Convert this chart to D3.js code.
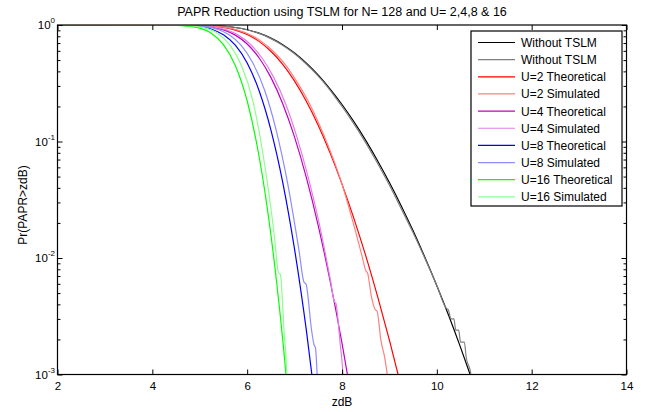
<!DOCTYPE html>
<html>
<head>
<meta charset="utf-8">
<script src="https://cdn.jsdelivr.net/npm/d3@7"></script>
<style>
body { margin: 0; background: #fff; }
text { font-family: "Liberation Sans", Arial, sans-serif; fill: #000; }
</style>
</head>
<body>
<svg width="646" height="412"></svg>
<script>
// grid used by the theoretical curves (dB)
var zdB = [2, 4, 4.5, 4.75, 5, 5.25, 5.5, 5.75, 6, 6.25, 6.5, 6.75, 7, 7.25, 7.5, 7.75, 8, 8.25, 8.5, 8.75, 9, 9.25, 9.5, 9.75, 10, 10.25, 10.5, 10.75, 11];

// theoretical CCDF values
var pWithout = [1, 1, 0.9996, 0.9987, 0.9961, 0.9897, 0.9762, 0.9512, 0.9104, 0.8506, 0.7719, 0.6779, 0.5745, 0.4698, 0.3707, 0.2820, 0.2077, 0.1480, 0.1023, 0.0684, 0.0444, 0.0280, 0.0171, 0.0101, 0.00579, 0.00321, 0.00171, 0.00088, 0.00045];
var pU2 = [1, 1, 0.9992, 0.9974, 0.9921, 0.9794, 0.9529, 0.9049, 0.8288, 0.7235, 0.5958, 0.4596, 0.3301, 0.2207, 0.1374, 0.0795, 0.0431, 0.0219, 0.01047, 0.00468, 0.00197, 0.00078];
var pU4 = [1, 1, 0.9985, 0.9948, 0.9843, 0.9592, 0.9079, 0.8188, 0.6870, 0.5235, 0.3550, 0.2112, 0.1089, 0.0487, 0.01888, 0.00632, 0.00186, 0.00048];
var pU8 = [1, 1, 0.9970, 0.9896, 0.9689, 0.9201, 0.8243, 0.6705, 0.4720, 0.2741, 0.1260, 0.0446, 0.01186, 0.00237, 0.000357];
var pU16 = [1, 1, 0.9940, 0.9792, 0.9388, 0.8466, 0.6795, 0.4496, 0.2228, 0.0751, 0.0159, 0.00199, 0.000141];

// simulated curves, [zdB, P] pairs
var simWithout = [[2, 1], [4.5, 0.9996], [4.75, 0.9987], [5, 0.996], [5.25, 0.9897], [5.5, 0.9762], [5.75, 0.9512], [6, 0.9104], [6.24, 0.8506], [6.48, 0.7719], [6.73, 0.6779], [6.98, 0.5745], [7.23, 0.4698], [7.48, 0.3707], [7.73, 0.282], [7.97, 0.2077], [8.22, 0.148], [8.47, 0.1023], [8.72, 0.0684], [8.97, 0.0444], [9.22, 0.028], [9.48, 0.0171], [9.74, 0.0101], [10, 0.0058], [10.2, 0.0037], [10.24, 0.0036], [10.3, 0.0030], [10.36, 0.0030], [10.4, 0.0024], [10.46, 0.0024], [10.5, 0.0019], [10.58, 0.0019], [10.62, 0.0014], [10.7, 0.0011], [10.76, 0.0008]];
var simU2 = [[2, 1], [4.55, 0.9992], [4.8, 0.9974], [5.05, 0.9921], [5.3, 0.9794], [5.55, 0.9529], [5.8, 0.9049], [6.05, 0.8288], [6.3, 0.7235], [6.55, 0.5958], [6.8, 0.4596], [7.04, 0.3301], [7.29, 0.2207], [7.53, 0.1374], [7.77, 0.0795], [8.0, 0.0431], [8.21, 0.0219], [8.42, 0.01047], [8.5, 0.0078], [8.54, 0.0074], [8.62, 0.00468], [8.7, 0.0036], [8.74, 0.0035], [8.82, 0.00197], [8.9, 0.0014], [8.97, 0.0009]];
var simU4 = [[2, 1], [4.55, 0.9985], [4.81, 0.9948], [5.06, 0.9843], [5.31, 0.9592], [5.56, 0.9079], [5.81, 0.8188], [6.06, 0.687], [6.31, 0.5235], [6.56, 0.355], [6.81, 0.2112], [7.05, 0.1089], [7.29, 0.0487], [7.53, 0.01888], [7.76, 0.00632], [7.84, 0.0042], [7.87, 0.0041], [7.96, 0.00186], [8.0, 0.0013], [8.03, 0.0009]];
var simU8 = [[2, 1], [4.6, 0.997], [4.87, 0.9896], [5.12, 0.9689], [5.37, 0.9201], [5.62, 0.8243], [5.87, 0.6705], [6.12, 0.472], [6.37, 0.2741], [6.61, 0.126], [6.85, 0.0446], [7.09, 0.01186], [7.2, 0.0062], [7.24, 0.0060], [7.36, 0.00237], [7.41, 0.0018], [7.44, 0.0017], [7.48, 0.0009]];
var simU16 = [[2, 1], [4.6, 0.994], [4.88, 0.9792], [5.13, 0.9388], [5.38, 0.8466], [5.63, 0.6795], [5.88, 0.4496], [6.12, 0.2228], [6.34, 0.0751], [6.57, 0.0159], [6.66, 0.0075], [6.7, 0.0072], [6.79, 0.00199], [6.81, 0.0016], [6.84, 0.0009]];

var xTicks = [2, 4, 6, 8, 10, 12, 14];
var yMajor = [1, 0.1, 0.01, 0.001];
var yExp = ["0", "-1", "-2", "-3"];
var legendLabels = ["Without TSLM", "Without TSLM", "U=2 Theoretical", "U=2 Simulated", "U=4 Theoretical", "U=4 Simulated", "U=8 Theoretical", "U=8 Simulated", "U=16 Theoretical", "U=16 Simulated"];
var colors = ["#000000", "#808080", "#ff0000", "#ff8080", "#c000c0", "#e080e0", "#0000ff", "#8c8cff", "#00ff00", "#8cff8c"];

function zipTheory(p) { return p.map(function (v, i) { return [zdB[i], v]; }); }

var series = [zipTheory(pWithout), simWithout, zipTheory(pU2), simU2, zipTheory(pU4), simU4,
              zipTheory(pU8), simU8, zipTheory(pU16), simU16];

var svg = d3.select("svg"),
    pl = 57.5, pr = 626.5, pt = 25, pb = 374.5;

var x = d3.scaleLinear().domain([2, 14]).range([pl, pr]),
    y = d3.scaleLog().domain([0.001, 1]).range([pb, pt]);

var yMinor = [];
[0.001, 0.01, 0.1].forEach(function (d) {
    for (var k = 2; k <= 9; k++) yMinor.push(d * k);
});

svg.append("clipPath").attr("id", "plot").append("rect")
    .attr("x", pl).attr("y", pt).attr("width", pr - pl).attr("height", pb - pt);

var line = d3.line()
    .x(function (d) { return x(d[0]); })
    .y(function (d) { return y(Math.max(d[1], 1e-5)); })
    .curve(d3.curveMonotoneX);

var g = svg.append("g").attr("clip-path", "url(#plot)");
g.selectAll("path").data(series).enter().append("path")
    .attr("d", line)
    .attr("fill", "none")
    .attr("stroke", function (d, i) { return colors[i]; })
    .attr("stroke-width", 1.2);

// axes, ticks pointing inwards
function styleAxis(sel) {
    sel.select(".domain").remove();
    sel.selectAll("line").attr("stroke", "#000");
    sel.selectAll("text").style("font-size", "11.5px").style("font-family", "Liberation Sans, Arial, sans-serif");
}
svg.append("g").attr("transform", "translate(0," + pb + ")")
    .call(d3.axisBottom(x).tickValues(xTicks).tickSizeInner(-5).tickSizeOuter(0).tickPadding(7).tickFormat(d3.format("d")))
    .call(styleAxis);
svg.append("g").attr("transform", "translate(0," + pt + ")")
    .call(d3.axisTop(x).tickValues(xTicks).tickSizeInner(-5).tickSizeOuter(0).tickFormat(""))
    .call(styleAxis);
[[d3.axisLeft, pl], [d3.axisRight, pr]].forEach(function (a) {
    svg.append("g").attr("transform", "translate(" + a[1] + ",0)")
        .call(a[0](y).tickValues(yMajor).tickSizeInner(-5).tickSizeOuter(0).tickFormat(""))
        .call(styleAxis);
    svg.append("g").attr("transform", "translate(" + a[1] + ",0)")
        .call(a[0](y).tickValues(yMinor).tickSizeInner(-3).tickSizeOuter(0).tickFormat(""))
        .call(styleAxis);
});

var yl = svg.append("g").selectAll("text").data(yMajor).enter().append("text")
    .attr("x", 55).attr("y", function (d) { return y(d) + 4; })
    .attr("text-anchor", "end").style("font-size", "11.5px");
yl.append("tspan").text("10");
yl.append("tspan").attr("dy", -6).style("font-size", "8px").text(function (d, i) { return yExp[i]; });

svg.append("rect").attr("x", pl).attr("y", pt).attr("width", pr - pl).attr("height", pb - pt)
    .attr("fill", "none").attr("stroke", "#000").attr("stroke-width", 1.2);

svg.append("text").attr("x", (pl + pr) / 2).attr("y", 16).attr("text-anchor", "middle")
    .style("font-size", "12.5px").text("PAPR Reduction using TSLM for N= 128 and U= 2,4,8 & 16");
svg.append("text").attr("x", (pl + pr) / 2).attr("y", 406).attr("text-anchor", "middle")
    .style("font-size", "12px").text("zdB");
svg.append("text").attr("transform", "translate(27,205) rotate(-90)")
    .attr("text-anchor", "middle").style("font-size", "12px").text("Pr(PAPR>zdB)");

// legend
var lg = svg.append("g");
lg.append("rect").attr("x", 471).attr("y", 31).attr("width", 151).attr("height", 175)
    .attr("fill", "#fff").attr("stroke", "#000").attr("stroke-width", 1.2);
var item = lg.selectAll(".item").data(legendLabels).enter().append("g")
    .attr("transform", function (d, i) { return "translate(0," + (42.5 + i * 17.15) + ")"; });
item.append("line").attr("x1", 478).attr("x2", 515)
    .attr("stroke", function (d, i) { return colors[i]; }).attr("stroke-width", 1.2);
item.append("text").attr("x", 521).attr("y", 4.5).style("font-size", "12px").text(function (d) { return d; });
</script>
</body>
</html>
